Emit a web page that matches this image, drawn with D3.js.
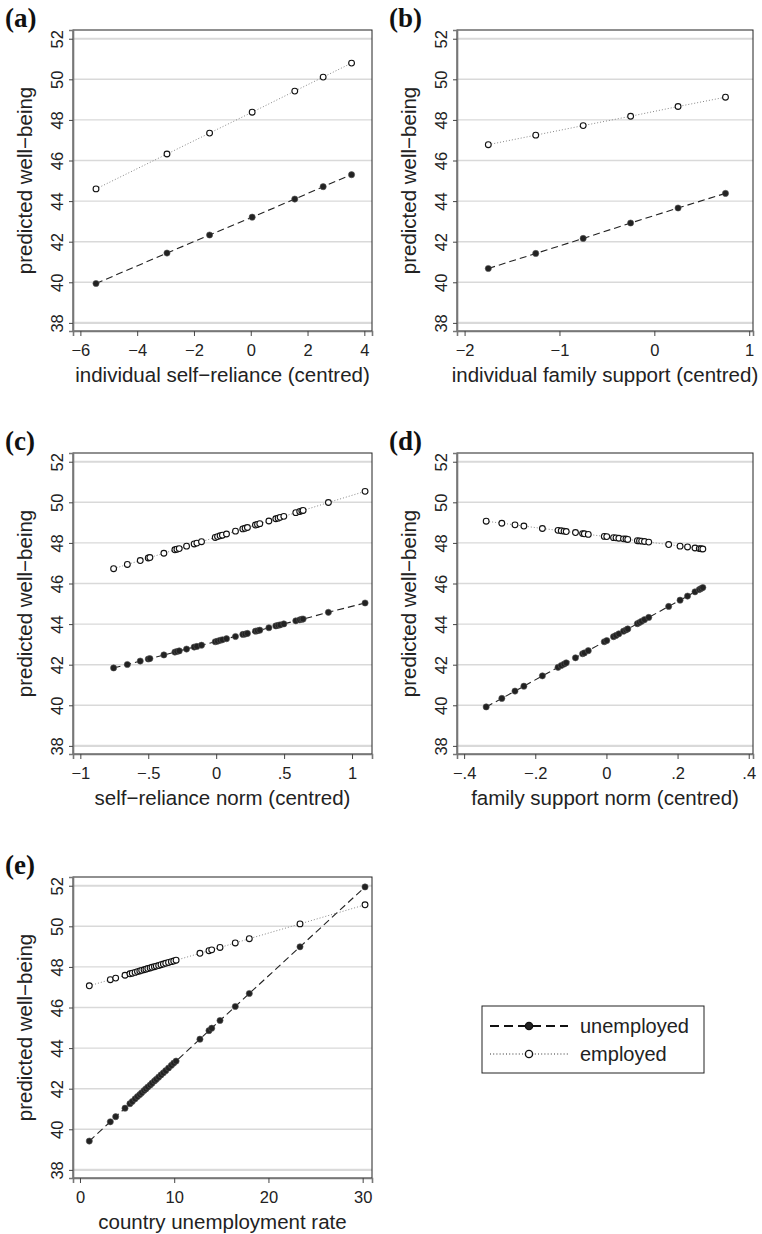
<!DOCTYPE html>
<html><head><meta charset="utf-8">
<script src="https://cdn.jsdelivr.net/npm/d3@7"></script>
<style>body{margin:0;background:#fff}svg{display:block}</style>
</head><body>
<script>
// ---------- data ----------
const yTicks = [38, 40, 42, 44, 46, 48, 50, 52];
const seriesNames = ["unemployed", "employed"];

const aX = [-5.45, -2.95, -1.45, 0.05, 1.55, 2.55, 3.55];
const aEmp = [44.60, 46.32, 47.35, 48.38, 49.42, 50.11, 50.80];
const aUnemp = [39.94, 41.44, 42.33, 43.21, 44.10, 44.71, 45.30];
const aTicks = [-6, -4, -2, 0, 2, 4];
const aTickLabels = ["−6", "−4", "−2", "0", "2", "4"];

const bX = [-1.75, -1.25, -0.75, -0.25, 0.25, 0.75];
const bEmp = [46.78, 47.25, 47.72, 48.18, 48.66, 49.12];
const bUnemp = [40.68, 41.42, 42.16, 42.92, 43.66, 44.38];
const bTicks = [-2, -1, 0, 1];
const bTickLabels = ["−2", "−1", "0", "1"];

const cX = [-0.755, -0.654, -0.559, -0.50, -0.488, -0.385, -0.304, -0.289, -0.272, -0.218, -0.162, -0.142,
  -0.108, -0.007, 0.010, 0.029, 0.046, 0.076, 0.142, 0.196, 0.213, 0.230, 0.289, 0.304, 0.321, 0.388,
  0.439, 0.456, 0.471, 0.498, 0.586, 0.615, 0.630, 0.640, 0.826, 1.096];
const cEmp = [46.73, 46.94, 47.13, 47.26, 47.28, 47.49, 47.66, 47.69, 47.72, 47.84, 47.95, 47.99,
  48.06, 48.27, 48.31, 48.35, 48.38, 48.44, 48.58, 48.69, 48.72, 48.76, 48.88, 48.91, 48.95, 49.08,
  49.19, 49.22, 49.26, 49.31, 49.49, 49.55, 49.58, 49.60, 49.99, 50.54];
const cUnemp = [41.84, 42.01, 42.18, 42.28, 42.30, 42.48, 42.62, 42.65, 42.68, 42.77, 42.87, 42.90,
  42.96, 43.13, 43.16, 43.20, 43.23, 43.28, 43.39, 43.49, 43.51, 43.54, 43.65, 43.67, 43.70, 43.82,
  43.91, 43.94, 43.96, 44.01, 44.16, 44.21, 44.24, 44.25, 44.58, 45.04];
const cTicks = [-1, -0.5, 0, 0.5, 1];
const cTickLabels = ["−1", "−.5", "0", ".5", "1"];

const dX = [-0.338, -0.294, -0.257, -0.232, -0.180, -0.136, -0.127, -0.119, -0.113, -0.087, -0.067,
  -0.062, -0.051, -0.006, 0.001, 0.020, 0.027, 0.035, 0.048, 0.055, 0.060, 0.087, 0.093, 0.099, 0.107,
  0.119, 0.175, 0.207, 0.228, 0.249, 0.261, 0.266, 0.271];
const dEmp = [49.07, 48.97, 48.89, 48.83, 48.71, 48.62, 48.60, 48.58, 48.56, 48.51, 48.46, 48.45, 48.42,
  48.32, 48.31, 48.26, 48.25, 48.23, 48.20, 48.19, 48.17, 48.11, 48.10, 48.09, 48.07, 48.04, 47.92,
  47.84, 47.80, 47.75, 47.72, 47.71, 47.70];
const dUnemp = [39.92, 40.34, 40.70, 40.94, 41.45, 41.87, 41.96, 42.03, 42.09, 42.34, 42.54, 42.58, 42.69,
  43.13, 43.19, 43.38, 43.44, 43.52, 43.65, 43.71, 43.76, 44.02, 44.08, 44.14, 44.22, 44.33, 44.87,
  45.18, 45.38, 45.59, 45.70, 45.75, 45.80];
const dTicks = [-0.4, -0.2, 0, 0.2, 0.4];
const dTickLabels = ["−.4", "−.2", "0", ".2", ".4"];

const eX = [0.99, 3.22, 3.79, 4.78, 5.3, 5.55, 5.85, 6.1, 6.35, 6.55, 6.8, 7.0, 7.2, 7.45, 7.65, 7.9, 8.1,
  8.35, 8.6, 8.85, 9.1, 9.4, 9.7, 9.95, 10.2, 12.73, 13.69, 13.98, 14.86, 16.48, 17.97, 23.35, 30.25];
const eEmp = [47.07, 47.37, 47.45, 47.59, 47.66, 47.69, 47.73, 47.77, 47.80, 47.83, 47.86, 47.89, 47.92,
  47.95, 47.98, 48.01, 48.04, 48.07, 48.11, 48.14, 48.18, 48.22, 48.26, 48.29, 48.33, 48.67, 48.80,
  48.84, 48.96, 49.18, 49.39, 50.12, 51.06];
const eUnemp = [39.42, 40.37, 40.62, 41.04, 41.26, 41.37, 41.50, 41.61, 41.71, 41.80, 41.91, 41.99, 42.08,
  42.18, 42.27, 42.38, 42.46, 42.57, 42.68, 42.78, 42.89, 43.02, 43.15, 43.26, 43.36, 44.44, 44.86,
  44.98, 45.36, 46.05, 46.69, 48.99, 51.94];
const eTicks = [0, 10, 20, 30];
const eTickLabels = ["0", "10", "20", "30"];

// ---------- layout ----------
const W = 762, H = 1234;
const colLeft = [73, 457], colRight = [372, 753];
const rowTop = [30, 453, 877];
const plotH = 301;
const yDomain = [37.6, 52.43];

const panels = [
  {label: "(a)", title: "individual self−reliance (centred)", x: aX, emp: aEmp, un: aUnemp, ticks: aTicks, tl: aTickLabels, dom: [-6.26, 4.27], col: 0, row: 0},
  {label: "(b)", title: "individual family support (centred)", x: bX, emp: bEmp, un: bUnemp, ticks: bTicks, tl: bTickLabels, dom: [-2.08, 1.04], col: 1, row: 0},
  {label: "(c)", title: "self−reliance norm (centred)", x: cX, emp: cEmp, un: cUnemp, ticks: cTicks, tl: cTickLabels, dom: [-1.054, 1.147], col: 0, row: 1},
  {label: "(d)", title: "family support norm (centred)", x: dX, emp: dEmp, un: dUnemp, ticks: dTicks, tl: dTickLabels, dom: [-0.42, 0.412], col: 1, row: 1},
  {label: "(e)", title: "country unemployment rate", x: eX, emp: eEmp, un: eUnemp, ticks: eTicks, tl: eTickLabels, dom: [-0.74, 30.99], col: 0, row: 2}
];

const svg = d3.select("body").append("svg").attr("width", W).attr("height", H)
  .style("font-family", "'Liberation Sans', Arial, Helvetica, sans-serif");

const empStyle = {stroke: "#888", dash: "1,2", width: 1};
const unStyle = {stroke: "#222", dash: "7,4", width: 1.1};

panels.forEach(p => {
  const left = colLeft[p.col], right = colRight[p.col];
  const top = rowTop[p.row], bottom = top + plotH;
  const x = d3.scaleLinear().domain(p.dom).range([left, right]);
  const y = d3.scaleLinear().domain(yDomain).range([bottom, top]);
  const g = svg.append("g");

  // grid
  g.selectAll("line.grid").data(yTicks).enter().append("line")
    .attr("x1", left).attr("x2", right)
    .attr("y1", d => y(d)).attr("y2", d => y(d))
    .attr("stroke", "#d9d9d9")
    .attr("stroke-width", d => (d === 52 || d === 38) ? 2.2 : 1.4);

  // box
  g.append("rect").attr("x", left).attr("y", top).attr("width", right - left).attr("height", plotH)
    .attr("fill", "none").attr("stroke", "#222").attr("stroke-width", 1);

  // axes
  const ya = d3.axisLeft(y).tickValues(yTicks).tickSize(4).tickFormat(d3.format("d"));
  const yg = g.append("g").attr("transform", `translate(${left},0)`).call(ya);
  yg.select(".domain").attr("stroke", "#777").attr("stroke-width", 1.6);
  yg.selectAll(".tick line").attr("stroke", "#444");
  yg.selectAll(".tick text")
    .attr("transform", "rotate(-90)").attr("x", 0).attr("y", -10).attr("dy", 0)
    .attr("text-anchor", "middle").attr("font-size", 16.5).attr("fill", "#222")
    .style("font-family", "'Liberation Sans', Arial, sans-serif");

  const xa = d3.axisBottom(x).tickValues(p.ticks).tickSize(5).tickFormat((d, i) => p.tl[i]);
  const xg = g.append("g").attr("transform", `translate(0,${bottom})`).call(xa);
  xg.select(".domain").attr("stroke", "#777").attr("stroke-width", 1.6);
  xg.selectAll(".tick line").attr("stroke", "#444");
  xg.selectAll(".tick text").attr("y", 13).attr("font-size", 16.5).attr("fill", "#222")
    .style("font-family", "'Liberation Sans', Arial, sans-serif");

  // titles
  g.append("text").attr("x", (left + right) / 2).attr("y", bottom + 51)
    .attr("text-anchor", "middle").attr("font-size", 20.5).attr("fill", "#222").text(p.title);
  g.append("text").attr("transform", `translate(${left - 41},${(top + bottom) / 2}) rotate(-90)`)
    .attr("text-anchor", "middle").attr("font-size", 20.5).attr("fill", "#222").text("predicted well−being");
  g.append("text").attr("x", left - 68).attr("y", top - 3)
    .attr("font-family", "'Liberation Serif', 'Times New Roman', serif").attr("font-weight", "bold")
    .attr("font-size", 27).attr("fill", "#111").text(p.label);

  // lines
  const empPts = p.x.map((v, i) => [v, p.emp[i]]);
  const unPts = p.x.map((v, i) => [v, p.un[i]]);
  const line = d3.line().x(d => x(d[0])).y(d => y(d[1]));
  g.append("path").attr("d", line(empPts)).attr("fill", "none")
    .attr("stroke", empStyle.stroke).attr("stroke-dasharray", empStyle.dash).attr("stroke-width", empStyle.width);
  g.append("path").attr("d", line(unPts)).attr("fill", "none")
    .attr("stroke", unStyle.stroke).attr("stroke-dasharray", unStyle.dash).attr("stroke-width", unStyle.width);

  // markers
  g.selectAll("circle.emp").data(empPts).enter().append("circle")
    .attr("cx", d => x(d[0])).attr("cy", d => y(d[1])).attr("r", 2.9)
    .attr("fill", "#fff").attr("stroke", "#111").attr("stroke-width", 1.1);
  g.selectAll("circle.un").data(unPts).enter().append("circle")
    .attr("cx", d => x(d[0])).attr("cy", d => y(d[1])).attr("r", 3.1)
    .attr("fill", "#222").attr("stroke", "#555").attr("stroke-width", 0.6);
});

// ---------- legend ----------
const lg = svg.append("g");
lg.append("rect").attr("x", 482).attr("y", 1006).attr("width", 222).attr("height", 67)
  .attr("fill", "#fff").attr("stroke", "#222").attr("stroke-width", 1);
const legRows = [
  {name: seriesNames[0], y: 1026, stroke: "#111", dash: "9,5", w: 2, fill: "#222"},
  {name: seriesNames[1], y: 1054, stroke: "#333", dash: "1,2.2", w: 1.1, fill: "#fff"}
];
legRows.forEach(r => {
  lg.append("line").attr("x1", 490).attr("x2", 568).attr("y1", r.y).attr("y2", r.y)
    .attr("stroke", r.stroke).attr("stroke-width", r.w).attr("stroke-dasharray", r.dash);
  lg.append("circle").attr("cx", 529).attr("cy", r.y).attr("r", 3.6)
    .attr("fill", r.fill).attr("stroke", "#111").attr("stroke-width", 1.4);
  lg.append("text").attr("x", 580).attr("y", r.y + 7).attr("font-size", 20).attr("fill", "#222").text(r.name);
});
</script>
</body></html>
